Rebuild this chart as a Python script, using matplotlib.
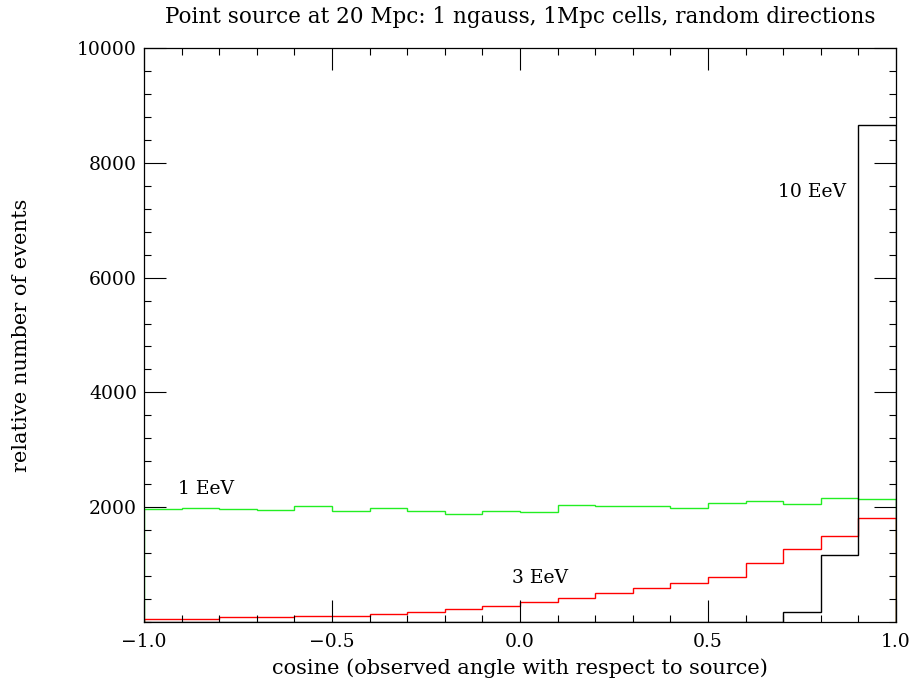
import numpy as np
import matplotlib
matplotlib.use("Agg")
import matplotlib.pyplot as plt
from matplotlib.ticker import MultipleLocator, FixedLocator

# bin edges in cosine, 20 bins of width 0.1
edges = np.linspace(-1.0, 1.0, 21)

# relative number of events per bin
counts_1eev = [1963, 1991, 1963, 1951, 2027, 1940, 1980, 1934, 1887, 1940,
               1911, 2038, 2027, 2027, 1991, 2067, 2108, 2062, 2166, 2143]
counts_3eev = [52, 47, 82, 82, 110, 110, 134, 180, 226, 279,
               348, 424, 511, 587, 674, 790, 1022, 1266, 1492, 1806]
counts_10eev = [0, 0, 0, 0, 0, 0, 0, 0, 0, 0,
                0, 0, 0, 0, 0, 0, 5, 169, 1162, 8659]

ytick_vals = [2000, 4000, 6000, 8000, 10000]
xtick_vals = [-1.0, -0.5, 0.0, 0.5, 1.0]

plt.rcParams['font.family'] = ['DejaVu Serif']
plt.rcParams['axes.unicode_minus'] = True

fig = plt.figure(figsize=(9.14, 6.85), dpi=100)
ax = fig.add_axes([0.1575, 0.092, 0.8228, 0.8379])

ax.stairs(counts_1eev, edges, baseline=0, color="#22ee22", linewidth=1.0)
ax.stairs(counts_3eev, edges, baseline=0, color="#ff0000", linewidth=1.0)
ax.stairs(counts_10eev, edges, baseline=0, color="black", linewidth=1.0)

ax.set_xlim(-1.0, 1.0)
ax.set_ylim(0, 10000)

ax.xaxis.set_major_locator(FixedLocator(xtick_vals))
ax.xaxis.set_minor_locator(MultipleLocator(0.1))
ax.yaxis.set_major_locator(FixedLocator(ytick_vals))
ax.yaxis.set_minor_locator(MultipleLocator(400))
ax.set_xticklabels([f"{v:.1f}".replace("-", "\u2212") for v in xtick_vals])
ax.set_yticklabels([str(v) for v in ytick_vals])

ax.tick_params(which="both", direction="in", top=True, right=True,
               labelsize=13.5, width=0.8, pad=8)
ax.tick_params(axis="y", pad=5)
ax.tick_params(which="major", length=16)
ax.tick_params(which="minor", length=5)
for s in ax.spines.values():
    s.set_linewidth(0.9)

ax.text(-0.91, 2230, "1 EeV", fontsize=13.5)
ax.text(-0.02, 680, "3 EeV", fontsize=13.5)
ax.text(0.685, 7400, "10 EeV", fontsize=13.5)

ax.set_xlabel("cosine (observed angle with respect to source)", fontsize=15, labelpad=5)
ax.set_ylabel("relative number of events", fontsize=15, labelpad=33)
fig.text(0.569, 0.975, "Point source at 20 Mpc: 1 ngauss, 1Mpc cells, random directions",
         ha="center", va="center", fontsize=15.5)

fig.savefig("out.png", dpi=100)
